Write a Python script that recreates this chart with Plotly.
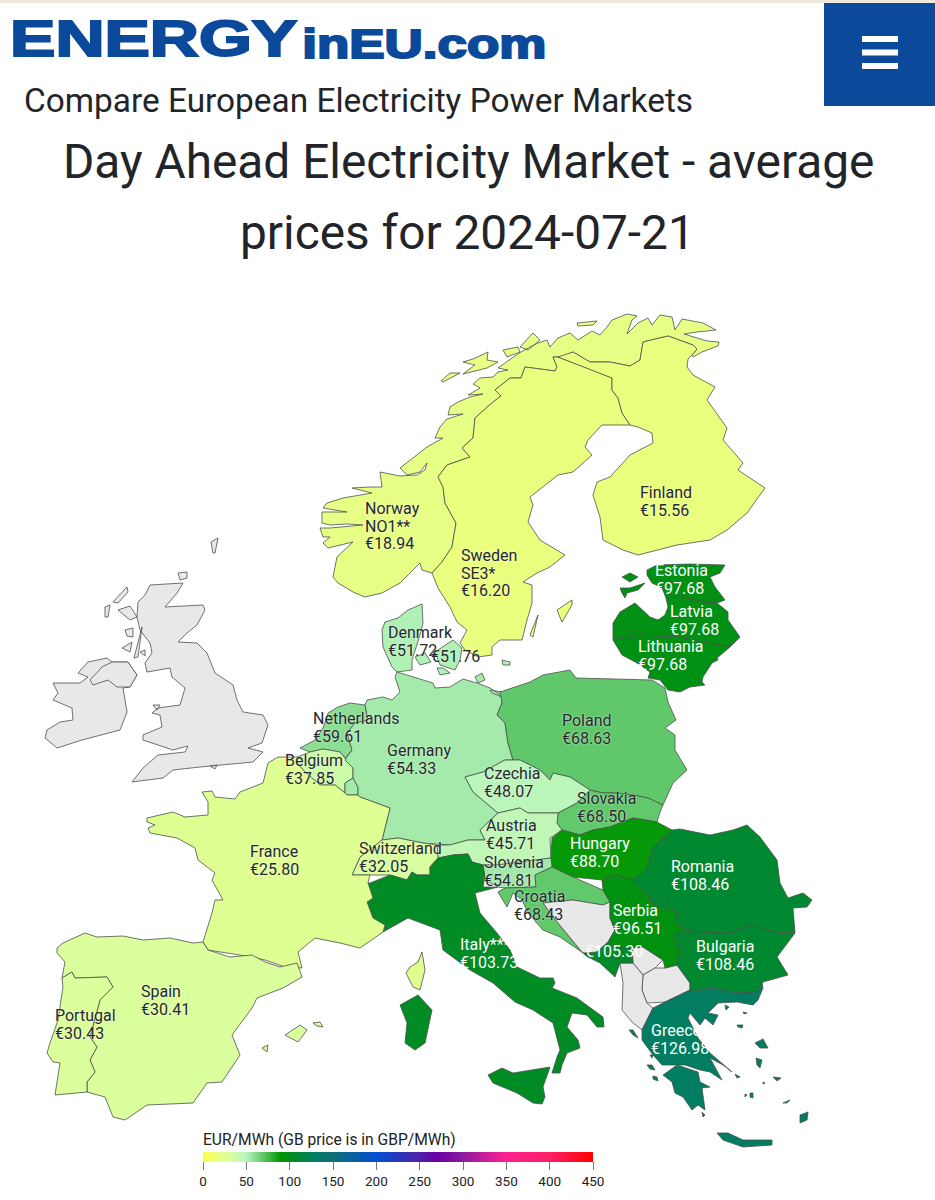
import plotly.graph_objects as go
from plotly.colors import sample_colorscale

# prices, EUR/MWh
label_names = ["Norway<NO1**", "Sweden<SE3*", "Finland", "Estonia", "Latvia", "Lithuania", "Denmark", "Netherlands",
               "Belgium", "Germany", "Poland", "Czechia", "Slovakia", "Austria", "Hungary", "Switzerland",
               "Slovenia", "Croatia", "Romania", "Serbia", "Bulgaria", "", "Italy***", "France", "Spain",
               "Portugal", "Greece", ""]
label_prices = ["€18.94", "€16.20", "€15.56", "€97.68", "€97.68", "€97.68", "€51.72", "€59.61",
                "€37.85", "€54.33", "€68.63", "€48.07", "€68.50", "€45.71", "€88.70", "€32.05",
                "€54.81", "€68.43", "€108.46", "€96.51", "€108.46", "€105.30", "€103.73", "€25.80", "€30.41",
                "€30.43", "€126.98", "€51.76"]
label_x = [365, 461, 640, 655, 670, 638, 388, 313, 285, 387, 562, 484, 577, 486, 570, 359,
           484, 514, 671, 613, 696, 585, 460, 250, 141, 55, 651, 431]
label_y = [510, 557, 494, 572, 613, 648, 634, 720, 762, 752, 722, 775, 800, 827, 845, 850,
           864, 898, 868, 912, 948, 935, 946, 853, 993, 1017, 1032, 640]
light_prices = ["€97.68", "€88.70", "€108.46", "€96.51", "€105.30", "€103.73", "€126.98"]

color_ticks = [0, 50, 100, 150, 200, 250, 300, 350, 400, 450]
scale_values = [0, 15, 30, 50, 70, 90, 108, 126, 150, 200, 250, 270, 300, 350, 400, 450]
scale_colors = ["rgb(255,255,64)", "rgb(236,255,125)", "rgb(220,255,155)", "rgb(184,245,190)", "rgb(90,197,101)",
                "rgb(0,150,0)", "rgb(0,136,48)", "rgb(0,127,96)", "rgb(16,110,120)", "rgb(0,80,208)",
                "rgb(80,32,168)", "rgb(106,0,168)", "rgb(139,26,160)", "rgb(255,32,144)", "rgb(255,32,100)",
                "rgb(255,0,0)"]
PRICE_MAX = 450
colorscale = [[v / PRICE_MAX, c] for v, c in zip(scale_values, scale_colors)]

# outlines, page pixels; there is no offline map data to draw from
norway = [(432,573),(442,562),(452,547),(456,523),(445,503),(443,487),(438,477),(447,465),(470,457),(462,448),
          (473,438),(475,418),(493,402),(501,396),(495,390),(510,378),(521,378),(525,367),(555,371),(557,367),
          (553,357),(562,357),(573,352),(590,362),(610,362),(630,366),(640,360),(643,342),(668,336),(693,345),
          (697,349),(692,355),(693,357),(702,352),(718,346),(719,342),(707,341),(684,334),(697,332),(716,330),
          (703,323),(682,319),(675,330),(672,317),(660,315),(652,325),(648,318),(638,323),(627,334),(632,320),
          (637,316),(627,314),(612,320),(607,327),(600,335),(592,331),(578,340),(570,333),(558,338),(550,347),
          (547,340),(538,343),(530,347),(521,352),(512,358),(498,368),(508,370),(498,372),(493,377),(480,378),
          (473,384),(480,388),(468,395),(483,394),(470,397),(458,402),(450,407),(448,415),(463,414),(447,419),
          (440,427),(435,438),(443,438),(427,447),(400,468),(407,475),(420,472),(427,463),(425,470),(417,475),
          (400,476),(380,472),(382,487),(370,487),(352,488),(372,493),(343,498),(327,503),(323,508),(347,512),
          (322,512),(322,523),(330,525),(347,524),(363,525),(330,528),(320,528),(323,537),(330,537),(323,543),
          (328,548),(353,542),(337,557),(335,567),(333,577),(338,583),(353,592),(365,597),(382,593),(400,583),
          (420,563),(422,570),(432,573)]
norway_isles = [[(577,323),(597,321),(593,325),(578,326)],
                [(463,362),(473,359),(488,352),(487,360),(498,362),(487,368),(463,374),(475,365)],
                [(441,381),(450,373),(460,373),(443,382)],
                [(503,350),(518,347),(520,352),(507,357)],
                [(520,347),(533,333),(540,340),(528,350)]]
sweden = [(432,573),(442,562),(452,547),(456,523),(445,503),(443,487),(438,477),(447,465),(470,457),(462,448),
          (473,438),(475,418),(493,402),(501,396),(495,390),(510,378),(521,378),(525,367),(555,371),(557,367),
          (553,357),(558,357),(587,368),(612,378),(612,390),(618,398),(622,413),(630,425),(617,425),(602,425),
          (588,440),(585,447),(592,455),(573,472),(558,475),(543,487),(530,497),(533,505),(528,522),(540,540),
          (565,555),(550,567),(537,573),(523,582),(532,585),(532,603),(527,620),(522,640),(500,640),(492,647),
          (492,655),(478,657),(465,650),(460,643),(467,630),(457,622),(450,607),(438,588),(433,577)]
sweden_isles = [[(557,610),(572,600),(572,605),(562,622)], [(530,635),(538,615),(533,637)]]
finland = [(558,357),(573,352),(590,362),(610,362),(630,366),(640,360),(643,342),(668,336),(693,345),(697,349),
           (692,355),(688,359),(687,367),(693,375),(715,387),(707,400),(727,428),(723,440),(743,463),(738,470),
           (765,488),(747,513),(727,530),(710,540),(677,545),(638,555),(623,550),(603,540),(600,517),(593,495),
           (597,482),(610,477),(630,455),(653,443),(652,433),(638,427),(630,425),(622,413),(618,398),(612,390),
           (612,378),(587,368)]
estonia = [(647,570),(657,565),(690,564),(725,565),(720,573),(710,577),(715,587),(725,600),(717,603),(703,602),
           (683,597),(666,598),(662,588),(652,583),(647,575)]
estonia_isles = [[(622,577),(630,573),(638,577),(630,582)],
                 [(620,588),(630,588),(645,583),(638,590),(627,593),(625,598),(622,593)]]
latvia = [(613,623),(620,612),(635,603),(650,617),(658,620),(665,615),(668,607),(666,598),(683,597),(703,602),
          (717,603),(728,612),(728,620),(740,637),(730,647),(707,643),(677,637),(640,635),(613,640)]
lithuania = [(613,640),(640,635),(677,637),(707,643),(730,647),(717,658),(718,660),(712,663),(703,677),(702,682),
             (705,685),(690,687),(680,692),(668,690),(660,680),(648,678),(650,672),(637,663),(622,655)]
poland = [(500,692),(530,682),(543,675),(570,670),(576,678),(652,680),(665,688),(668,702),(676,720),(665,728),
          (675,735),(675,750),(687,770),(673,783),(663,805),(648,798),(633,795),(617,793),(603,793),(590,790),
          (570,777),(553,773),(550,780),(540,770),(520,760),(513,760),(508,743),(505,723),(497,715),(502,703)]
germany = [(397,672),(418,678),(433,683),(435,688),(450,687),(463,679),(477,683),(490,688),(502,696),(502,703),
           (497,715),(505,723),(508,743),(513,760),(505,760),(483,772),(465,777),(473,792),(498,813),(480,830),
           (485,840),(468,840),(450,845),(423,843),(398,838),(382,840),(390,808),(360,797),(358,795),(358,787),
           (353,778),(353,768),(345,760),(352,750),(347,733),(355,723),(368,720),(365,705),(367,700),(383,697),
           (392,700),(400,692),(395,677)]
germany_isles = [[(475,677),(482,673),(485,680),(478,683)], [(490,690),(502,692),(502,697),(492,693)]]
netherlands = [(328,713),(338,707),(350,703),(365,705),(368,720),(355,723),(347,733),(352,750),(345,758),(340,752),
               (323,749),(310,752),(300,748),(315,740),(323,728)]
belgium = [(297,757),(310,752),(323,749),(340,752),(345,758),(353,768),(353,778),(345,783),(345,793),(335,785),
           (320,785),(305,772),(297,763)]
luxembourg = [(345,783),(353,778),(358,787),(358,795),(347,795),(345,793)]
france = [(147,818),(173,812),(185,817),(208,815),(208,802),(202,792),(212,791),(215,797),(235,799),(240,792),
          (263,783),(268,763),(278,757),(297,757),(297,763),(305,772),(320,785),(335,785),(345,793),(347,795),
          (358,795),(360,797),(390,808),(382,840),(360,857),(352,875),(370,875),(368,883),(373,898),(367,902),
          (373,918),(385,925),(383,932),(360,948),(340,943),(315,938),(298,952),(302,968),(285,967),(265,960),
          (252,957),(227,953),(208,950),(203,942),(212,913),(215,900),(223,900),(212,880),(215,873),(198,860),
          (195,848),(177,838),(150,833),(148,828),(155,825),(147,822)]
corsica = [(422,952),(425,970),(420,990),(413,987),(406,973),(410,967),(418,962)]
switzerland = [(352,875),(360,857),(382,840),(398,838),(423,843),(437,845),(438,858),(430,867),(430,875),(417,875),
               (412,872),(407,880),(390,875),(370,875)]
italy = [(368,883),(370,883),(390,875),(407,880),(412,872),(417,875),(430,875),(430,867),(438,858),(453,855),
         (468,854),(472,862),(483,865),(485,877),(483,887),(498,887),(475,893),(480,913),(497,933),(510,950),
         (517,967),(540,978),(553,978),(555,983),(552,988),(577,998),(603,1017),(604,1027),(597,1027),(587,1015),
         (572,1013),(567,1027),(578,1040),(580,1048),(567,1053),(562,1065),(560,1073),(552,1073),(557,1057),
         (560,1050),(553,1023),(533,1010),(515,1002),(493,983),(470,970),(443,950),(440,930),(408,918),(383,932),
         (385,925),(373,918),(367,902),(373,898)]
italy_isles = [[(400,1005),(418,995),(432,1010),(425,1043),(415,1050),(405,1043),(407,1023)],
               [(488,1075),(502,1068),(513,1073),(550,1067),(543,1087),(545,1097),(542,1104),(533,1103),(517,1093),(493,1083)]]
austria = [(437,845),(450,845),(468,840),(485,840),(480,830),(498,813),(520,808),(528,813),(558,813),(557,823),
           (562,830),(550,838),(551,858),(535,860),(497,865),(483,865),(472,862),(468,854),(453,855),(438,858)]
slovenia = [(483,865),(497,865),(535,860),(551,858),(552,867),(535,875),(536,887),(505,888),(498,887),(485,880)]
croatia = [(552,867),(573,877),(603,890),(610,902),(603,905),(573,900),(543,903),(558,923),(580,950),(583,953),
           (560,937),(543,930),(528,913),(522,900),(513,893),(507,907),(498,892),(505,888),(536,887),(535,875)]
bosnia = [(543,903),(573,900),(603,905),(610,902),(610,918),(615,930),(608,942),(597,952),(588,957),(582,952),(558,923)]
montenegro = [(583,953),(597,952),(608,942),(620,948),(632,948),(633,963),(620,963),(615,977),(600,963),(588,957)]
serbia = [(602,880),(617,875),(633,880),(652,900),(653,905),(677,912),(675,922),(685,930),(673,937),(680,950),
          (677,965),(665,968),(663,960),(643,947),(632,948),(620,948),(608,942),(615,930),(610,918),(610,902),(603,890)]
kosovo = [(632,948),(643,947),(663,960),(655,968),(643,975),(633,963)]
macedonia = [(643,975),(655,968),(665,968),(677,965),(690,983),(690,990),(665,1002),(647,1003),(642,990)]
albania = [(620,963),(633,963),(643,975),(642,990),(647,1003),(653,1008),(642,1030),(632,1022),(622,1010),(623,983)]
hungary = [(552,838),(562,830),(580,835),(593,830),(610,827),(633,818),(657,822),(672,830),(653,847),(647,868),
           (633,880),(617,875),(602,880),(573,877),(552,867),(551,858)]
slovakia = [(590,790),(603,793),(617,793),(633,795),(648,798),(663,805),(660,812),(657,822),(633,818),(610,827),
            (593,830),(580,835),(562,830),(557,823),(558,813),(577,803)]
czechia = [(513,760),(520,760),(540,770),(550,780),(553,773),(570,777),(590,790),(577,803),(558,813),(528,813),
           (520,808),(498,813),(473,792),(465,777),(483,772),(505,760)]
romania = [(672,830),(680,829),(710,835),(733,830),(747,825),(760,837),(777,860),(780,883),(788,898),(803,893),
           (812,900),(807,907),(793,908),(795,933),(773,932),(753,925),(730,933),(707,933),(685,930),(675,922),
           (677,912),(653,905),(652,900),(633,880),(647,868),(653,847)]
bulgaria = [(685,930),(707,933),(730,933),(753,925),(773,932),(795,933),(777,957),(788,975),(763,982),(757,992),
            (737,993),(710,988),(690,992),(690,983),(677,965),(680,950),(673,937)]
greece = [(642,1030),(653,1008),(665,1002),(690,990),(692,992),(710,988),(737,993),(757,992),(762,983),(763,988),
          (758,1000),(753,1005),(737,1002),(718,1003),(708,1013),(718,1015),(713,1025),(705,1018),(700,1025),
          (690,1013),(688,1018),(698,1038),(710,1053),(732,1072),(723,1065),(710,1058),(722,1080),(710,1072),
          (700,1070),(685,1065),(673,1065),(662,1065),(653,1055),(642,1040)]
greece_isles = [[(663,1075),(677,1065),(698,1072),(700,1082),(710,1087),(702,1088),(705,1110),(698,1105),(692,1110),(683,1097),(675,1093),(672,1082)],
                [(717,1133),(728,1133),(743,1140),(772,1140),(772,1145),(743,1147),(723,1140)],
                [(800,1115),(808,1112),(807,1120),(800,1123)],
                [(755,1043),(763,1039),(768,1048),(760,1048)],
                [(756,1058),(762,1060),(760,1068),(757,1065)],
                [(737,1025),(743,1025),(742,1028),(738,1027)],
                [(725,1005),(729,1007),(726,1010)],
                [(743,1012),(747,1013),(744,1014)],
                [(735,1074),(740,1077),(737,1078)],
                [(773,1077),(781,1078),(777,1081)],
                [(763,1082),(765,1083),(763,1084)],
                [(750,1093),(753,1093),(753,1098),(750,1097)],
                [(745,1094),(747,1095),(745,1097)],
                [(783,1103),(790,1100),(787,1103)],
                [(629,1030),(633,1030),(638,1038),(633,1035)],
                [(647,1065),(652,1065),(655,1070),(650,1069)],
                [(650,1055),(653,1055),(652,1058)],
                [(653,1076),(657,1077),(658,1081),(653,1079)],
                [(702,1112),(705,1115),(703,1117)]]
spain = [(57,948),(63,943),(85,933),(97,937),(123,936),(143,940),(170,938),(193,943),(203,942),(208,950),(230,957),
         (252,955),(265,962),(280,967),(297,963),(302,977),(283,988),(257,998),(252,1008),(232,1035),(240,1055),
         (222,1082),(207,1083),(193,1103),(147,1105),(125,1120),(113,1117),(105,1097),(87,1092),(87,1082),(95,1072),
         (90,1060),(97,1047),(90,1037),(100,1000),(113,987),(107,977),(75,978),(72,972),(62,978),(65,962),(57,953)]
spain_isles = [[(285,1035),(300,1025),(307,1030),(298,1042)], [(313,1023),(320,1022),(323,1027),(317,1026)],
               [(262,1048),(268,1045),(267,1052)]]
portugal = [(72,972),(75,978),(107,977),(113,987),(100,1000),(90,1037),(97,1047),(90,1060),(95,1072),(87,1082),
            (87,1092),(55,1095),(60,1063),(53,1062),(47,1053),(50,1043),(58,1020),(63,987),(62,978)]
denmark = [(382,630),(385,622),(398,618),(408,610),(422,604),(423,623),(420,635),(415,650),(412,660),(412,670),
           (397,672),(392,667),(383,647)]
denmark_east = [[(415,657),(425,653),(431,662),(420,665)], [(435,652),(453,640),(462,648),(460,660),(455,670),(440,665)],
                [(437,668),(443,668),(450,673),(440,675)], [(502,660),(510,662),(510,665),(503,665)]]
britain = [(150,585),(183,583),(177,593),(165,607),(203,605),(205,610),(197,625),(187,633),(178,642),(197,643),
           (207,653),(215,673),(233,685),(237,700),(243,712),(263,715),(268,725),(262,743),(248,748),(263,752),
           (253,762),(217,765),(200,767),(173,770),(163,778),(132,782),(143,768),(158,755),(185,752),(188,746),
           (173,750),(143,740),(143,735),(162,727),(160,715),(152,713),(158,708),(180,705),(185,688),(172,677),
           (170,668),(147,672),(145,663),(152,653),(150,643),(140,630),(137,617),(138,602),(145,595)]
britain_isles = [[(113,602),(127,587),(128,592),(118,603)], [(118,610),(130,606),(137,617),(130,620)],
                 [(125,630),(133,628),(133,637),(127,636)], [(122,648),(132,642),(130,652)],
                 [(142,627),(134,658),(138,657)], [(140,652),(145,650),(145,656)],
                 [(105,607),(110,605),(108,617),(105,617)], [(178,573),(187,572),(187,578),(180,580)],
                 [(211,542),(218,538),(215,553),(213,553)], [(210,766),(217,765),(215,769)],
                 [(153,705),(160,705),(157,710)]]
ireland = [(53,683),(80,683),(88,677),(78,673),(88,662),(107,658),(112,662),(128,662),(137,675),(130,687),(123,688),
           (127,712),(120,730),(82,740),(57,748),(45,738),(47,730),(60,722),(73,720),(72,708),(53,700),(58,693)]
northern_ireland = [(90,680),(102,667),(112,662),(128,662),(137,675),(130,687),(117,687),(108,680),(93,685)]

# value is None where the site has no price
areas = [
    ([britain] + britain_isles, None), ([ireland], None), ([northern_ireland], None),
    ([norway] + norway_isles, 18.94), ([sweden] + sweden_isles, 16.20), ([finland], 15.56),
    ([estonia] + estonia_isles, 97.68), ([latvia], 97.68), ([lithuania], 97.68),
    ([denmark], 51.72), (denmark_east, 51.76), ([netherlands], 59.61), ([belgium], 37.85), ([luxembourg], 54.33),
    ([germany] + germany_isles, 54.33), ([poland], 68.63), ([czechia], 48.07), ([slovakia], 68.50),
    ([austria], 45.71), ([hungary], 88.70), ([switzerland], 32.05), ([slovenia], 54.81), ([croatia], 68.43),
    ([bosnia], None), ([kosovo], None), ([macedonia], None), ([albania], None),
    ([romania], 108.46), ([serbia], 96.51), ([bulgaria], 108.46), ([montenegro], 105.30),
    ([italy] + italy_isles, 103.73), ([france, corsica], 25.80), ([spain] + spain_isles, 30.41),
    ([portugal], 30.43), ([greece] + greece_isles, 126.98),
]

fig = go.Figure()

for parts, value in areas:
    xs, ys = [], []
    for part in parts:
        xs += [p[0] for p in part] + [part[0][0], None]
        ys += [p[1] for p in part] + [part[0][1], None]
    if value is None:
        fill = "#e8e8e8"
    else:
        fill = sample_colorscale(colorscale, value / PRICE_MAX)[0]
    fig.add_trace(go.Scatter(x=xs, y=ys, mode="lines", fill="toself", fillcolor=fill,
                             line=dict(color="#4a524a", width=0.8), hoverinfo="skip"))

# two text rows per label, the site's line spacing is tighter than plotly's <br>
ROW = 17.5
for name, price, x, y in zip(label_names, label_prices, label_x, label_y):
    light = price in light_prices
    rows = [r for r in name.split("<") if r] + [price]
    fig.add_trace(go.Scatter(
        x=[x] * len(rows),
        y=[y + i * ROW for i in range(len(rows))] if name else [y + ROW],
        mode="text", text=rows, textposition="middle right",
        textfont=dict(family="Roboto", size=16, color="#ffffff" if light else "#26282c",
                      shadow="none" if light else "0 0 2px rgba(255,255,255,0.8)"),
        hoverinfo="skip",
    ))

# empty trace, only here to carry the colour bar
fig.add_trace(go.Scatter(
    x=[None], y=[None], mode="markers", hoverinfo="skip",
    marker=dict(
        color=[0], cmin=0, cmax=PRICE_MAX, colorscale=colorscale, showscale=True,
        colorbar=dict(
            orientation="h", x=203 / 935, xanchor="left", y=1 - 1152 / 1200, yanchor="top",
            len=390, lenmode="pixels", thickness=10, thicknessmode="pixels", xpad=0, ypad=0,
            outlinewidth=0, ticks="outside", ticklen=8, tickwidth=1, tickcolor="#777777",
            tickvals=color_ticks, tickfont=dict(family="Roboto", size=13.5, color="#222222"),
        ),
    ),
))

fig.add_shape(type="rect", x0=0, x1=935, y0=0, y1=3, fillcolor="#efe9dc", line_width=0, layer="below")
fig.add_shape(type="rect", x0=824, x1=935, y0=3, y1=106, fillcolor="#0b4a9b", line_width=0)
for y0 in [36, 49.5, 63]:
    fig.add_shape(type="rect", x0=862, x1=898, y0=y0, y1=y0 + 6, fillcolor="#ffffff", line_width=0)

header = [
    ("ENERGY", 153.5, 39, "Liberation Sans", 50, "#0b4a9b", "center"),
    ("inEU.com", 424, 44, "Liberation Sans", 40, "#0b4a9b", "center"),
    ("Compare European Electricity Power Markets", 22, 100, "Roboto", 33.4, "#212529", "left"),
    ("Day Ahead Electricity Market - average", 468, 162, "Roboto", 47.8, "#212529", "center"),
    ("prices for 2024-07-21", 467, 233, "Roboto", 47.8, "#212529", "center"),
    ("EUR/MWh (GB price is in GBP/MWh)", 201, 1140, "Roboto", 15.6, "#222222", "left"),
]
for text, x, y, family, size, color, anchor in header:
    fig.add_annotation(x=x, y=y, text=text, showarrow=False, xanchor=anchor, yanchor="middle",
                       font=dict(family=family, size=size, color=color,
                                 weight="bold" if family != "Roboto" else "normal"))

fig.update_layout(
    width=935, height=1200, showlegend=False,
    margin=dict(l=0, r=0, t=0, b=0, pad=0, autoexpand=False),
    paper_bgcolor="white", plot_bgcolor="white",
    xaxis=dict(range=[0, 935], visible=False, fixedrange=True),
    yaxis=dict(range=[1200, 0], visible=False, fixedrange=True),
)

# page margin off, and the logo's two words stretched to the wide heavy letters of the original
stretch = """
document.body.style.margin = '0';
const logoWidths = {'ENERGY': 287, 'inEU.com': 244};
document.querySelectorAll('text').forEach(function (t) {
    const w = logoWidths[t.textContent];
    if (w) {
        t.setAttribute('textLength', w);
        t.setAttribute('lengthAdjust', 'spacingAndGlyphs');
        t.style.stroke = '#0b4a9b';
        t.style.strokeWidth = '2px';
    }
});
"""
fig.write_html("out.html", config={"displayModeBar": False}, post_script=stretch)
